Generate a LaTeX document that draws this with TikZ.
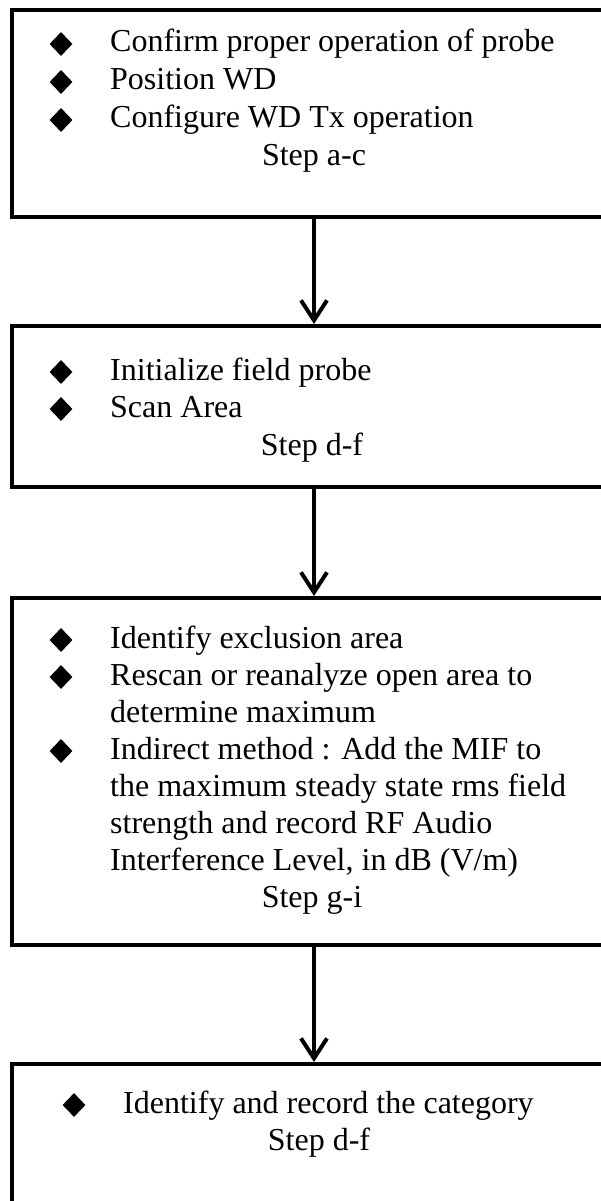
\documentclass[tikz,border=0pt]{standalone}
\usepackage{fontspec}
\setmainfont{Liberation Serif}
\usetikzlibrary{arrows.meta,shapes.geometric}
\begin{document}
\begin{tikzpicture}[x=1pt,y=-1pt,
  box/.style={draw=black, line width=4pt, rectangle, anchor=north, minimum width=604pt, inner sep=0pt},
  bul/.style={diamond, fill=black, inner sep=0pt, minimum width=23pt, minimum height=24pt},
  txt/.style={anchor=base west, inner sep=0pt, font=\fontsize{32}{37}\selectfont},
  stp/.style={anchor=base, inner sep=0pt, font=\fontsize{32}{37}\selectfont},
  flow/.style={line width=4pt, -{Straight Barb[length=20pt,width=26pt]}}
]
\useasboundingbox (0,0) rectangle (601,1201);
\clip (0,0) rectangle (601,1201);
\fill[white] (0,0) rectangle (601,1201);
% boxes
\node[box, minimum height=207pt] (b1) at (314,8) {};
\node[box, minimum height=161pt] (b2) at (314,324) {};
\node[box, minimum height=347pt] (b3) at (314,596) {};
\node[box, minimum height=250pt] (b4) at (314,1062) {};
% box 1
\node[bul] (d1a) at (61,44) {};
\node[bul] (d1b) at (61,82) {};
\node[bul] (d1c) at (61,120) {};
\node[txt] (t1a) at (110,52) {Confirm proper operation of probe};
\node[txt] (t1b) at (110,90) {Position WD};
\node[txt] (t1c) at (110,128) {Configure WD Tx operation};
\node[stp] (s1) at (314,166) {Step a-c};
% box 2
\node[bul] (d2a) at (61,372) {};
\node[bul] (d2b) at (61,409) {};
\node[txt] (t2a) at (110,380) {Initialize field probe};
\node[txt] (t2b) at (110,417) {Scan Area};
\node[stp] (s2) at (312,455) {Step d-f};
% box 3
\node[bul] (d3a) at (61,640) {};
\node[bul] (d3b) at (61,677) {};
\node[bul] (d3c) at (61,751) {};
\node[txt] (t3a) at (110,648) {Identify exclusion area};
\node[txt] (t3b) at (110,685) {Rescan or reanalyze open area to};
\node[txt] (t3b2) at (110,722) {determine maximum};
\node[txt] (t3c) at (110,759) {Indirect method : Add the MIF to};
\node[txt] (t3c2) at (110,796) {the maximum steady state rms field};
\node[txt] (t3c3) at (110,833) {strength and record RF Audio};
\node[txt] (t3c4) at (110,870) {Interference Level, in dB (V/m)};
\node[stp] (s3) at (312,907) {Step g-i};
% box 4
\node[bul] (d4a) at (74,1105) {};
\node[txt] (t4a) at (123,1113) {Identify and record the category};
\node[stp] (s4) at (319,1150) {Step d-f};
% connectors
\draw[flow] (b1.south) -- (b2.north);
\draw[flow] (b2.south) -- (b3.north);
\draw[flow] (b3.south) -- (b4.north);
\end{tikzpicture}
\end{document}
